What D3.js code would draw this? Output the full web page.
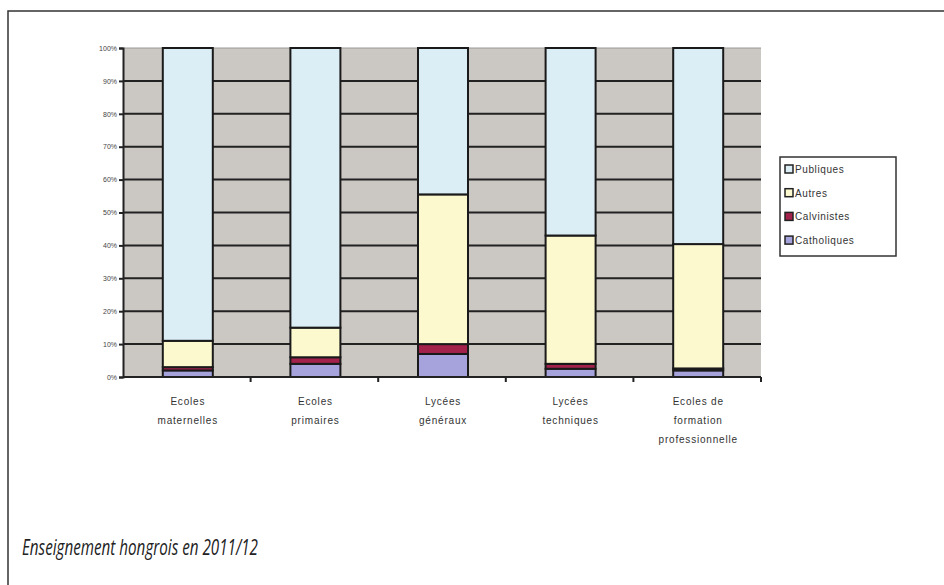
<!DOCTYPE html>
<html>
<head>
<meta charset="utf-8">
<script src="https://cdn.jsdelivr.net/npm/d3@7"></script>
<style>
 body { margin: 0; background: #fff; }
 svg { display: block; }
</style>
</head>
<body>
<div id="chart"></div>
<script>
// data (percent of pupils)
var categories = [
  ["Ecoles", "maternelles"],
  ["Ecoles", "primaires"],
  ["Lycées", "généraux"],
  ["Lycées", "techniques"],
  ["Ecoles de", "formation", "professionnelle"]
];
var seriesNames = ["Catholiques", "Calvinistes", "Autres", "Publiques"];
var catholiques = [2, 4, 7, 2.5, 2];
var calvinistes = [1, 2, 3, 1.5, 0.6];
var autres = [8, 9, 45.5, 39, 37.8];
var publiques = [89, 85, 44.5, 57, 59.6];
var yTicks = [0, 10, 20, 30, 40, 50, 60, 70, 80, 90, 100];
var title = "Enseignement hongrois en 2011/12";

var colors = {
  "Catholiques": "#a6a3dc",
  "Calvinistes": "#a3224c",
  "Autres": "#fdf9cf",
  "Publiques": "#dbeef5"
};

var w = 944, h = 585;
// plot box (note: "top" is reserved on window, so use pTop)
var pLeft = 123, pRight = 761, pTop = 48, pBottom = 377;

var svg = d3.select("#chart").append("svg")
  .attr("width", w)
  .attr("height", h);

// outer frame
svg.append("rect")
  .attr("x", 8).attr("y", 11)
  .attr("width", w + 10).attr("height", h + 10)
  .attr("fill", "none")
  .attr("stroke", "#333")
  .attr("stroke-width", 1.5);

var rows = categories.map(function(c, i) {
  return {
    idx: i,
    Catholiques: catholiques[i],
    Calvinistes: calvinistes[i],
    Autres: autres[i],
    Publiques: publiques[i]
  };
});

var xScale = d3.scaleBand()
  .domain(d3.range(categories.length))
  .range([pLeft, pRight])
  .padding(0);
var yScale = d3.scaleLinear().domain([0, 100]).range([pBottom, pTop]);

// plot background
svg.append("rect")
  .attr("x", pLeft).attr("y", pTop)
  .attr("width", pRight - pLeft).attr("height", pBottom - pTop)
  .attr("fill", "#cbc7c3");

// grid lines
svg.append("g")
  .selectAll("line")
  .data(yTicks.slice(1, -1))
  .enter().append("line")
  .attr("x1", pLeft).attr("x2", pRight)
  .attr("y1", function(d) { return yScale(d); })
  .attr("y2", function(d) { return yScale(d); })
  .attr("stroke", "#222")
  .attr("stroke-width", 2);

// top light edge of the plot
svg.append("line")
  .attr("x1", pLeft).attr("x2", pRight)
  .attr("y1", pTop).attr("y2", pTop)
  .attr("stroke", "#9a9894").attr("stroke-width", 1);

var stack = d3.stack().keys(seriesNames)(rows);
var barW = 50;

svg.append("g")
  .selectAll("g")
  .data(stack)
  .enter().append("g")
  .attr("fill", function(d) { return colors[d.key]; })
  .selectAll("rect")
  .data(function(d) { return d; })
  .enter().append("rect")
  .attr("x", function(d) { return xScale(d.data.idx) + xScale.bandwidth() / 2 - barW / 2 + 1; })
  .attr("y", function(d) { return yScale(d[1]); })
  .attr("width", barW)
  .attr("height", function(d) { return yScale(d[0]) - yScale(d[1]); })
  .attr("stroke", "#1a1a1a")
  .attr("stroke-width", 2);

// y axis
var yAxis = svg.append("g")
  .attr("transform", "translate(" + pLeft + ",0)")
  .call(d3.axisLeft(yScale).tickValues(yTicks).tickSize(4)
    .tickFormat(function(d) { return d + "%"; }));
yAxis.select(".domain").attr("stroke", "#222").attr("stroke-width", 2);
yAxis.selectAll(".tick line").attr("stroke", "#222").attr("stroke-width", 2);
yAxis.selectAll("text")
  .attr("fill", "#444")
  .style("font-family", "Liberation Sans, Arial, sans-serif")
  .style("font-size", "7px")
  .attr("x", -6);

// x axis
var xAxis = svg.append("g")
  .attr("transform", "translate(0," + pBottom + ")");
xAxis.append("line")
  .attr("x1", pLeft).attr("x2", pRight)
  .attr("stroke", "#222").attr("stroke-width", 2);
xAxis.selectAll(".xt")
  .data(d3.range(categories.length))
  .enter().append("line")
  .attr("x1", function(d) { return xScale(d) + xScale.bandwidth(); })
  .attr("x2", function(d) { return xScale(d) + xScale.bandwidth(); })
  .attr("y1", 0).attr("y2", 5)
  .attr("stroke", "#222").attr("stroke-width", 2);

var labels = svg.append("g")
  .selectAll("text")
  .data(categories)
  .enter().append("text")
  .attr("text-anchor", "middle")
  .attr("fill", "#333")
  .style("font-family", "Liberation Sans, Arial, sans-serif")
  .style("font-size", "10px")
  .style("letter-spacing", "0.8px");
labels.each(function(lines, i) {
  var t = d3.select(this);
  lines.forEach(function(s, j) {
    t.append("tspan")
      .attr("x", xScale(i) + xScale.bandwidth() / 2 + 1)
      .attr("y", 405 + j * 19)
      .text(s);
  });
});

// legend
var lg = svg.append("g").attr("transform", "translate(780,157)");
lg.append("rect")
  .attr("width", 116).attr("height", 99)
  .attr("fill", "#fff")
  .attr("stroke", "#333").attr("stroke-width", 1.5);
var legendOrder = seriesNames.slice().reverse();
var li = lg.selectAll(".li")
  .data(legendOrder)
  .enter().append("g")
  .attr("transform", function(d, i) { return "translate(5," + (12 + i * 23.7) + ")"; });
li.append("rect")
  .attr("x", 0).attr("y", -4)
  .attr("width", 8).attr("height", 8)
  .attr("fill", function(d) { return colors[d]; })
  .attr("stroke", "#222").attr("stroke-width", 1.5);
li.append("text")
  .attr("x", 10).attr("y", 4)
  .attr("fill", "#333")
  .style("font-family", "Liberation Sans, Arial, sans-serif")
  .style("font-size", "10px")
  .style("letter-spacing", "0.6px")
  .text(function(d) { return d; });

// caption
svg.append("text")
  .attr("x", 22).attr("y", 555)
  .attr("fill", "#222")
  .style("font-family", "Open Sans, sans-serif")
  .style("font-style", "italic")
  .style("font-size", "21px")
  .attr("textLength", 236)
  .attr("lengthAdjust", "spacingAndGlyphs")
  .text(title);
</script>
</body>
</html>
